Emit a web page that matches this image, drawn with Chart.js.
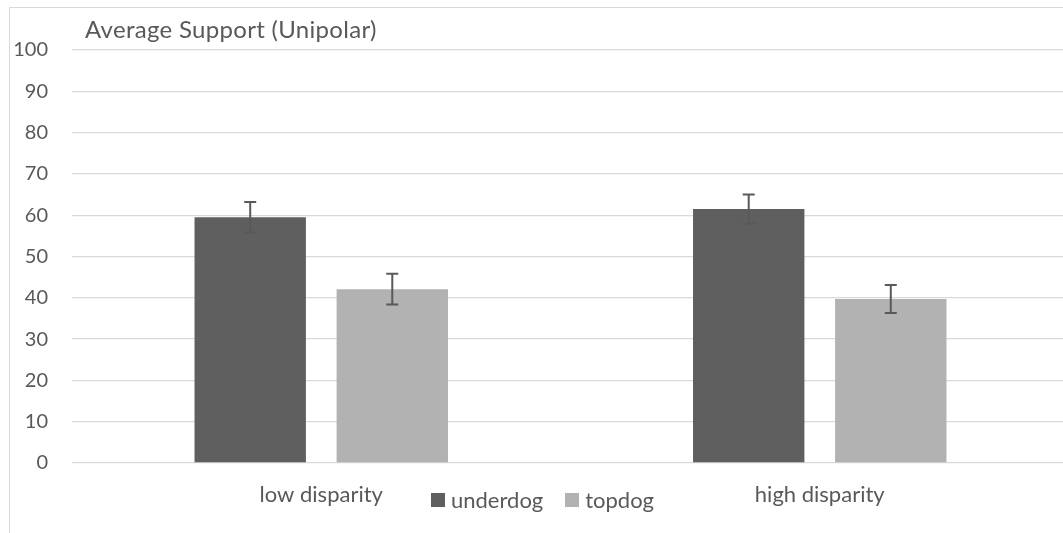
<!DOCTYPE html>
<html lang="en">
<head>
    <meta charset="UTF-8">
    <title>Average Support (Unipolar)</title>
    <script src="https://cdn.jsdelivr.net/npm/chart.js"></script>
    <style>
        body { margin: 0; background: #fff; overflow: hidden; font-family: Lato, sans-serif; color: #595959; }
        .frame { position: absolute; left: 9px; top: 7px; width: 1100px; height: 600px; border: 1px solid #d9d9d9; }
        .chart-box { position: absolute; left: 0; top: 0; width: 1069px; height: 533px; }
        .chart-title { position: absolute; left: 85px; top: 14px; font-size: 24px; letter-spacing: 0.3px; white-space: nowrap; }
        .legend { position: absolute; left: 431px; top: 486px; display: flex; align-items: center; font-size: 22px; white-space: nowrap; }
        .legend .box { width: 14px; height: 14px; display: inline-block; margin-right: 6px; }
        .legend .item { display: flex; align-items: center; margin-right: 22px; }
    </style>
</head>
<body>
    <div class="frame"></div>
    <div class="chart-box">
        <canvas id="supportChart"></canvas>
    </div>
    <div class="chart-title">Average Support (Unipolar)</div>
    <div class="legend" id="legend"></div>

    <script>
        // data
        const categories = ['low disparity', 'high disparity'];
        const underdog = [59.5, 61.5];
        const underdogErr = [3.7, 3.5];
        const topdog = [42.1, 39.7];
        const topdogErr = [3.7, 3.4];
        const yTicks = [0, 10, 20, 30, 40, 50, 60, 70, 80, 90, 100];

        const seriesNames = ['underdog', 'topdog'];
        const seriesColors = ['#5f5f5f', '#b2b2b2'];

        // error bars with caps
        const errorBars = {
            id: 'errorBars',
            afterDatasetsDraw(chart) {
                const ctx = chart.ctx;
                const yScale = chart.scales.y;
                ctx.save();
                ctx.strokeStyle = '#595959';
                ctx.lineWidth = 2;
                chart.data.datasets.forEach((ds, i) => {
                    const meta = chart.getDatasetMeta(i);
                    meta.data.forEach((bar, j) => {
                        const v = ds.data[j];
                        const e = ds.errors[j];
                        const top = yScale.getPixelForValue(v + e);
                        const bot = yScale.getPixelForValue(v - e);
                        ctx.beginPath();
                        ctx.moveTo(bar.x, top);
                        ctx.lineTo(bar.x, bot);
                        ctx.moveTo(bar.x - 6, top);
                        ctx.lineTo(bar.x + 6, top);
                        ctx.moveTo(bar.x - 6, bot);
                        ctx.lineTo(bar.x + 6, bot);
                        ctx.stroke();
                    });
                });
                ctx.restore();
            }
        };

        const ctx = document.getElementById('supportChart').getContext('2d');
        new Chart(ctx, {
            type: 'bar',
            data: {
                labels: categories,
                datasets: [{
                    label: seriesNames[0],
                    data: underdog,
                    errors: underdogErr,
                    backgroundColor: seriesColors[0],
                    categoryPercentage: 0.57,
                    barPercentage: 0.784
                }, {
                    label: seriesNames[1],
                    data: topdog,
                    errors: topdogErr,
                    backgroundColor: seriesColors[1],
                    categoryPercentage: 0.57,
                    barPercentage: 0.784
                }]
            },
            options: {
                responsive: true,
                maintainAspectRatio: false,
                animation: false,
                layout: { padding: { top: 50, left: 12, right: 0, bottom: 0 } },
                plugins: {
                    legend: { display: false },
                    title: { display: false },
                    tooltip: { enabled: false }
                },
                scales: {
                    x: {
                        grid: { display: false },
                        border: { display: false },
                        ticks: { color: '#595959', font: { family: 'Lato', size: 22 }, padding: 11 },
                        afterFit(scale) { scale.height = 70; }
                    },
                    y: {
                        min: 0,
                        max: 100,
                        afterBuildTicks(scale) { scale.ticks = yTicks.map(v => ({ value: v })); },
                        grid: { color: '#d9d9d9', lineWidth: 1.3, drawTicks: false },
                        border: { display: false },
                        ticks: { color: '#595959', font: { family: 'Lato', size: 20 }, padding: 24 },
                        afterFit(scale) { scale.width = 60; }
                    }
                }
            },
            plugins: [errorBars]
        });

        // legend under the plot
        const legend = document.getElementById('legend');
        seriesNames.forEach((name, i) => {
            const item = document.createElement('div');
            item.className = 'item';
            item.innerHTML = '<span class="box" style="background:' + seriesColors[i] + '"></span>' + name;
            legend.appendChild(item);
        });
    </script>
</body>
</html>
